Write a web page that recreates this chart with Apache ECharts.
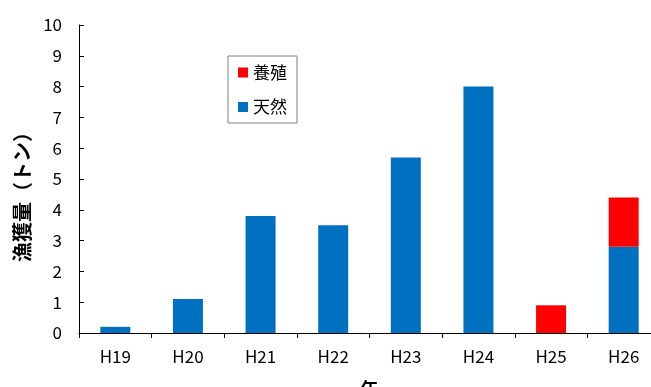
<!DOCTYPE html>
<html>
<head>
<meta charset="utf-8">
<script src="https://cdn.jsdelivr.net/npm/echarts@6/dist/echarts.min.js"></script>
<style>
  html, body { margin: 0; padding: 0; background: #fff; }
  #chart { width: 651px; height: 387px; }
</style>
</head>
<body>
<div id="chart"></div>
<script>
const years = ['H19', 'H20', 'H21', 'H22', 'H23', 'H24', 'H25', 'H26']
const wild = [0.2, 1.1, 3.8, 3.5, 5.7, 8.0, 0, 2.8]
const farmed = [0, 0, 0, 0, 0, 0, 0.9, 1.6]

const font = '"Noto Sans CJK JP", sans-serif'

const chart = echarts.init(document.getElementById('chart'))

chart.setOption({
  animation: false,
  textStyle: { fontFamily: font },
  grid: { left: 79, top: 25, width: 581, bottom: 54, outerBoundsMode: 'none', containLabel: false },
  legend: {
    orient: 'vertical',
    left: 228,
    top: 56,
    padding: [7.5, 10, 7, 10],
    itemGap: 16.5,
    itemWidth: 10,
    itemHeight: 10,
    icon: 'rect',
    borderColor: '#808080',
    borderWidth: 1,
    backgroundColor: '#fff',
    textStyle: { fontSize: 17, lineHeight: 18, color: '#000', fontFamily: font },
    data: ['養殖', '天然']
  },
  xAxis: {
    type: 'category',
    data: years,
    name: '年',
    nameLocation: 'middle',
    nameGap: 47,
    nameTextStyle: { fontSize: 18, color: '#000', fontWeight: 'bold' },
    axisLine: { lineStyle: { color: '#000', width: 1 } },
    axisTick: { show: true, inside: false, length: 5, alignWithLabel: false, lineStyle: { color: '#000' } },
    axisLabel: { color: '#000', fontSize: 17, margin: 15 }
  },
  yAxis: {
    type: 'value',
    min: 0,
    max: 10,
    interval: 1,
    name: '漁獲量（トン）',
    nameLocation: 'middle',
    nameRotate: 90,
    nameGap: 46,
    nameTextStyle: { fontSize: 20, color: '#000', fontWeight: 'bold', padding: [0, 26, 0, 0] },
    axisLine: { show: true, lineStyle: { color: '#000', width: 1 } },
    axisTick: { show: true, inside: true, length: 5, lineStyle: { color: '#000' } },
    axisLabel: { color: '#000', fontSize: 17, margin: 17 },
    splitLine: { show: false }
  },
  series: [
    {
      name: '天然',
      type: 'bar',
      stack: 'total',
      barWidth: 30,
      itemStyle: { color: '#0070C0' },
      data: wild
    },
    {
      name: '養殖',
      type: 'bar',
      stack: 'total',
      barWidth: 30,
      itemStyle: { color: '#FF0000' },
      data: farmed
    }
  ]
})
</script>
</body>
</html>
